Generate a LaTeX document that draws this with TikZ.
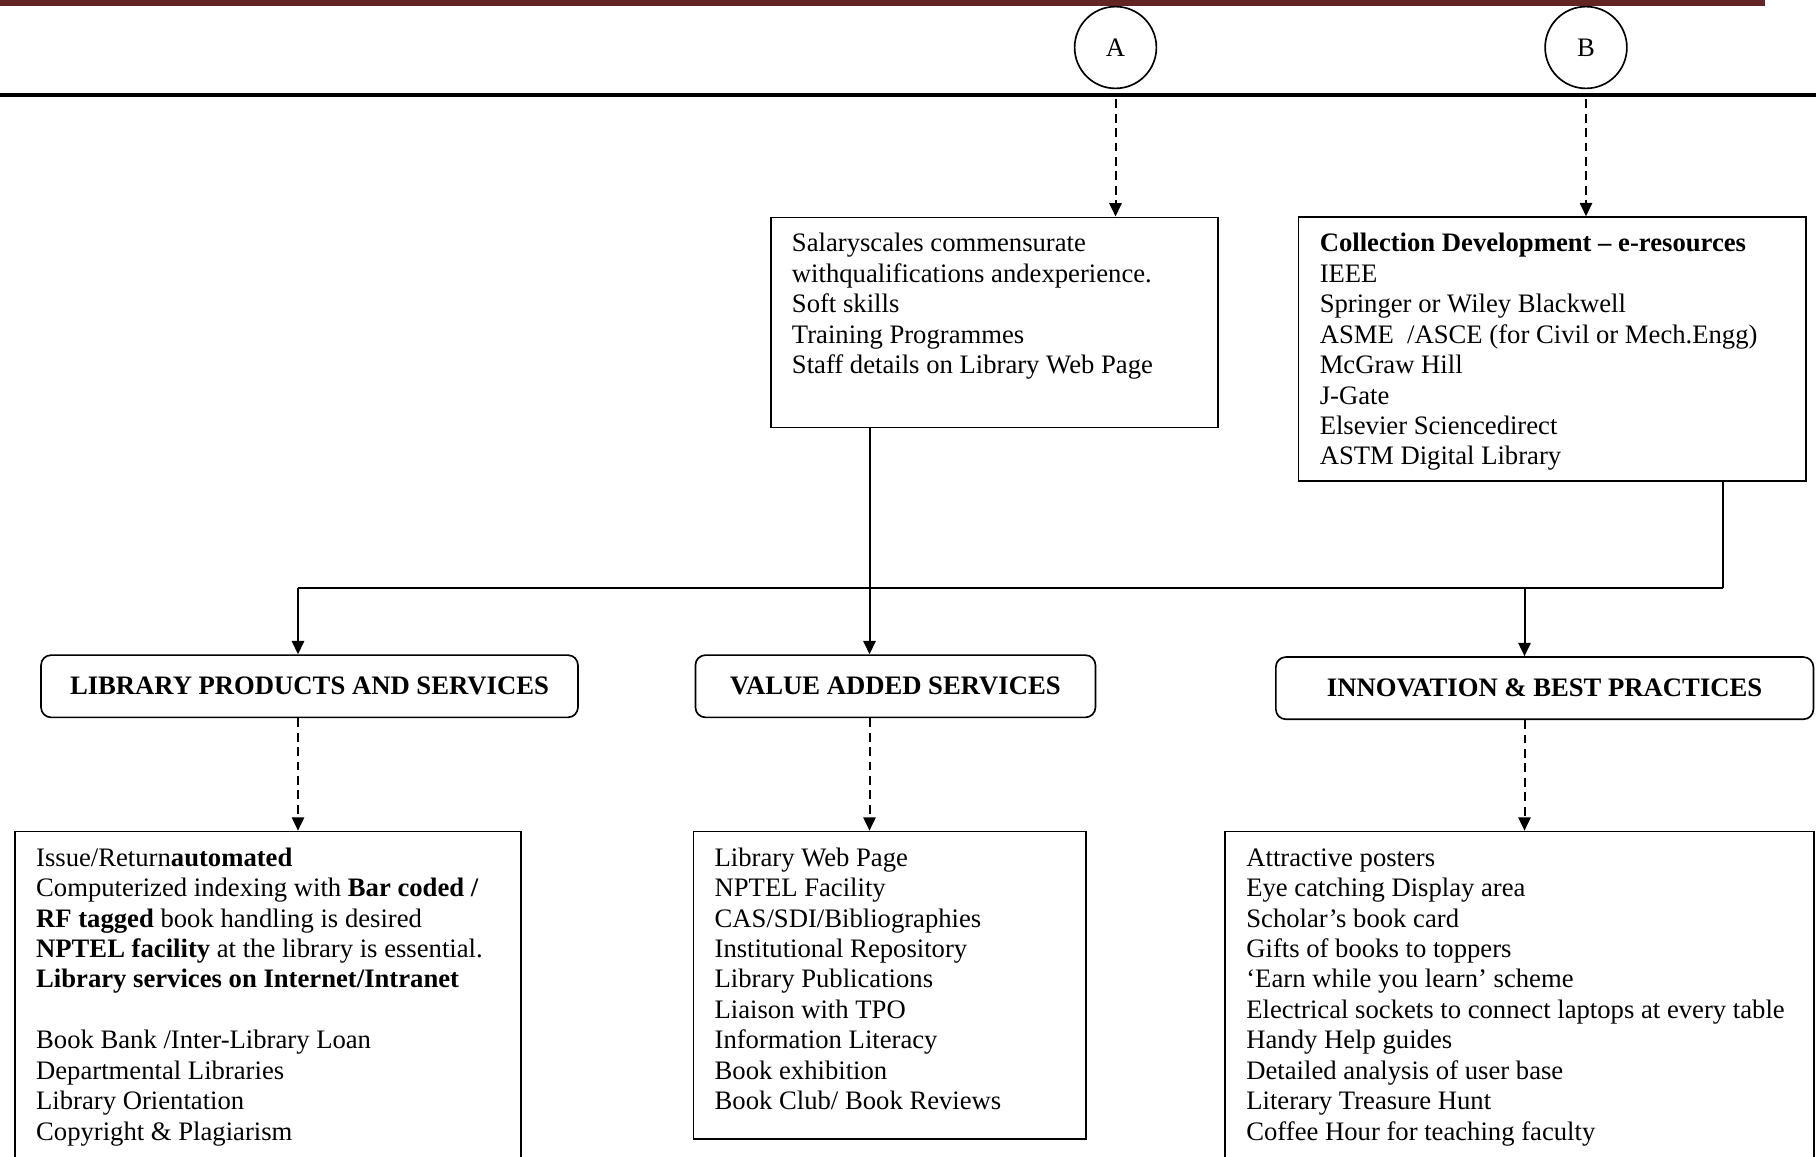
\documentclass[tikz,border=0pt]{standalone}
\usepackage{fontspec}
\setmainfont{Liberation Serif}
\usetikzlibrary{arrows.meta}
\definecolor{barred}{RGB}{99,36,36}
\newcommand{\boxbody}[3]{\parbox[c][#1][t]{#2}{\raggedright\strut #3}}
\begin{document}
\begin{tikzpicture}[x=0.45pt, y=-0.45pt,
    every node/.style={font=\fontsize{12}{13.7}\selectfont},
    listbox/.style={draw, line width=0.75pt, anchor=north west, inner xsep=9.5pt, inner ysep=6pt},
    headbox/.style={draw, line width=0.75pt, rounded corners=4.5pt, anchor=north west, inner sep=0pt,
        minimum height=28pt, font=\fontsize{12}{13.7}\selectfont\bfseries},
    letter/.style={draw, circle, line width=0.75pt, minimum size=36.8pt, inner sep=0pt},
    arr/.style={line width=0.9pt, -{Triangle[length=6pt,width=5.5pt]}},
    dasharr/.style={arr, dash pattern=on 4pt off 2.5pt}]
    \fill[white] (0,0) rectangle (1816,1157);
    \useasboundingbox (0,0) rectangle (1816,1157);
    % page header
    \fill[barred] (0,0) rectangle (1765,6.5);
    \draw[line width=1.8pt] (0,95.5) -- (1816,95.5);
    \node[letter] (circA) at (1115.5,47.5) {A};
    \node[letter] (circB) at (1586,47.5) {B};
    % upper boxes
    \node[listbox] (staff) at (770,216.5) {\boxbody{82.5pt}{182.2pt}{%
        Salaryscales commensurate\\
        withqualifications andexperience.\\
        Soft skills\\
        Training Programmes\\
        Staff details on Library Web Page}};
    \node[listbox] (coll) at (1297.8,216.3) {\boxbody{106.7pt}{209.2pt}{%
        \textbf{Collection Development – e-resources}\\
        IEEE\\
        Springer or Wiley Blackwell\\
        ASME\ \ /ASCE (for Civil or Mech.Engg)\\
        McGraw Hill\\
        J-Gate\\
        Elsevier Sciencedirect\\
        ASTM Digital Library}};
    % headings
    \node[headbox, minimum width=241.6pt] (lpshead) at (40.2,654.3) {LIBRARY PRODUCTS AND SERVICES};
    \node[headbox, minimum width=180pt] (vashead) at (694.6,654.3) {VALUE ADDED SERVICES};
    \node[headbox, minimum width=241.9pt] (ibphead) at (1275,656.2) {INNOVATION \& BEST PRACTICES};
    % lower boxes
    \node[listbox] (lpslist) at (14.2,830.7) {\boxbody{141pt}{208.8pt}{%
        Issue/Return\textbf{automated}\\
        Computerized indexing with \textbf{Bar coded /}\\
        \textbf{RF tagged} book handling is desired\\
        \textbf{NPTEL facility} at the library is essential.\\
        \textbf{Library services on Internet/Intranet}\\[13.7pt]
        Book Bank /Inter-Library Loan\\
        Departmental Libraries\\
        Library Orientation\\
        Copyright \& Plagiarism}};
    \node[listbox] (vaslist) at (692.7,830.7) {\boxbody{126.4pt}{157.5pt}{%
        Library Web Page\\
        NPTEL Facility\\
        CAS/SDI/Bibliographies\\
        Institutional Repository\\
        Library Publications\\
        Liaison with TPO\\
        Information Literacy\\
        Book exhibition\\
        Book Club/ Book Reviews}};
    \node[listbox] (ibplist) at (1224.4,830.7) {\boxbody{141pt}{245.9pt}{%
        Attractive posters\\
        Eye catching Display area\\
        Scholar’s book card\\
        Gifts of books to toppers\\
        ‘Earn while you learn’ scheme\\
        Electrical sockets to connect laptops at every table\\
        Handy Help guides\\
        Detailed analysis of user base\\
        Literary Treasure Hunt\\
        Coffee Hour for teaching faculty}};
    % connectors
    \coordinate (trunkL) at (298,588);
    \coordinate (trunkR) at (1722.5,588);
    \coordinate (vasdrop) at (869.5,588);
    \coordinate (ibpdrop) at (1524.5,588);
    \draw[dasharr, shorten <=4.5pt] (circA.south) -- (circA.south |- staff.north);
    \draw[dasharr, shorten <=4.5pt] (circB.south) -- (circB.south |- coll.north);
    \draw[line width=1.2pt] (trunkL) -- (trunkR);
    \draw[line width=0.9pt] (trunkR |- coll.south) -- (trunkR);
    \draw[arr] (vasdrop |- staff.south) -- (vasdrop |- vashead.north);
    \draw[arr] (trunkL) -- (trunkL |- lpshead.north);
    \draw[arr] (ibpdrop) -- (ibpdrop |- ibphead.north);
    \draw[dasharr] (trunkL |- lpshead.south) -- (trunkL |- lpslist.north);
    \draw[dasharr] (vasdrop |- vashead.south) -- (vasdrop |- vaslist.north);
    \draw[dasharr] (ibpdrop |- ibphead.south) -- (ibpdrop |- ibplist.north);
\end{tikzpicture}
\end{document}
